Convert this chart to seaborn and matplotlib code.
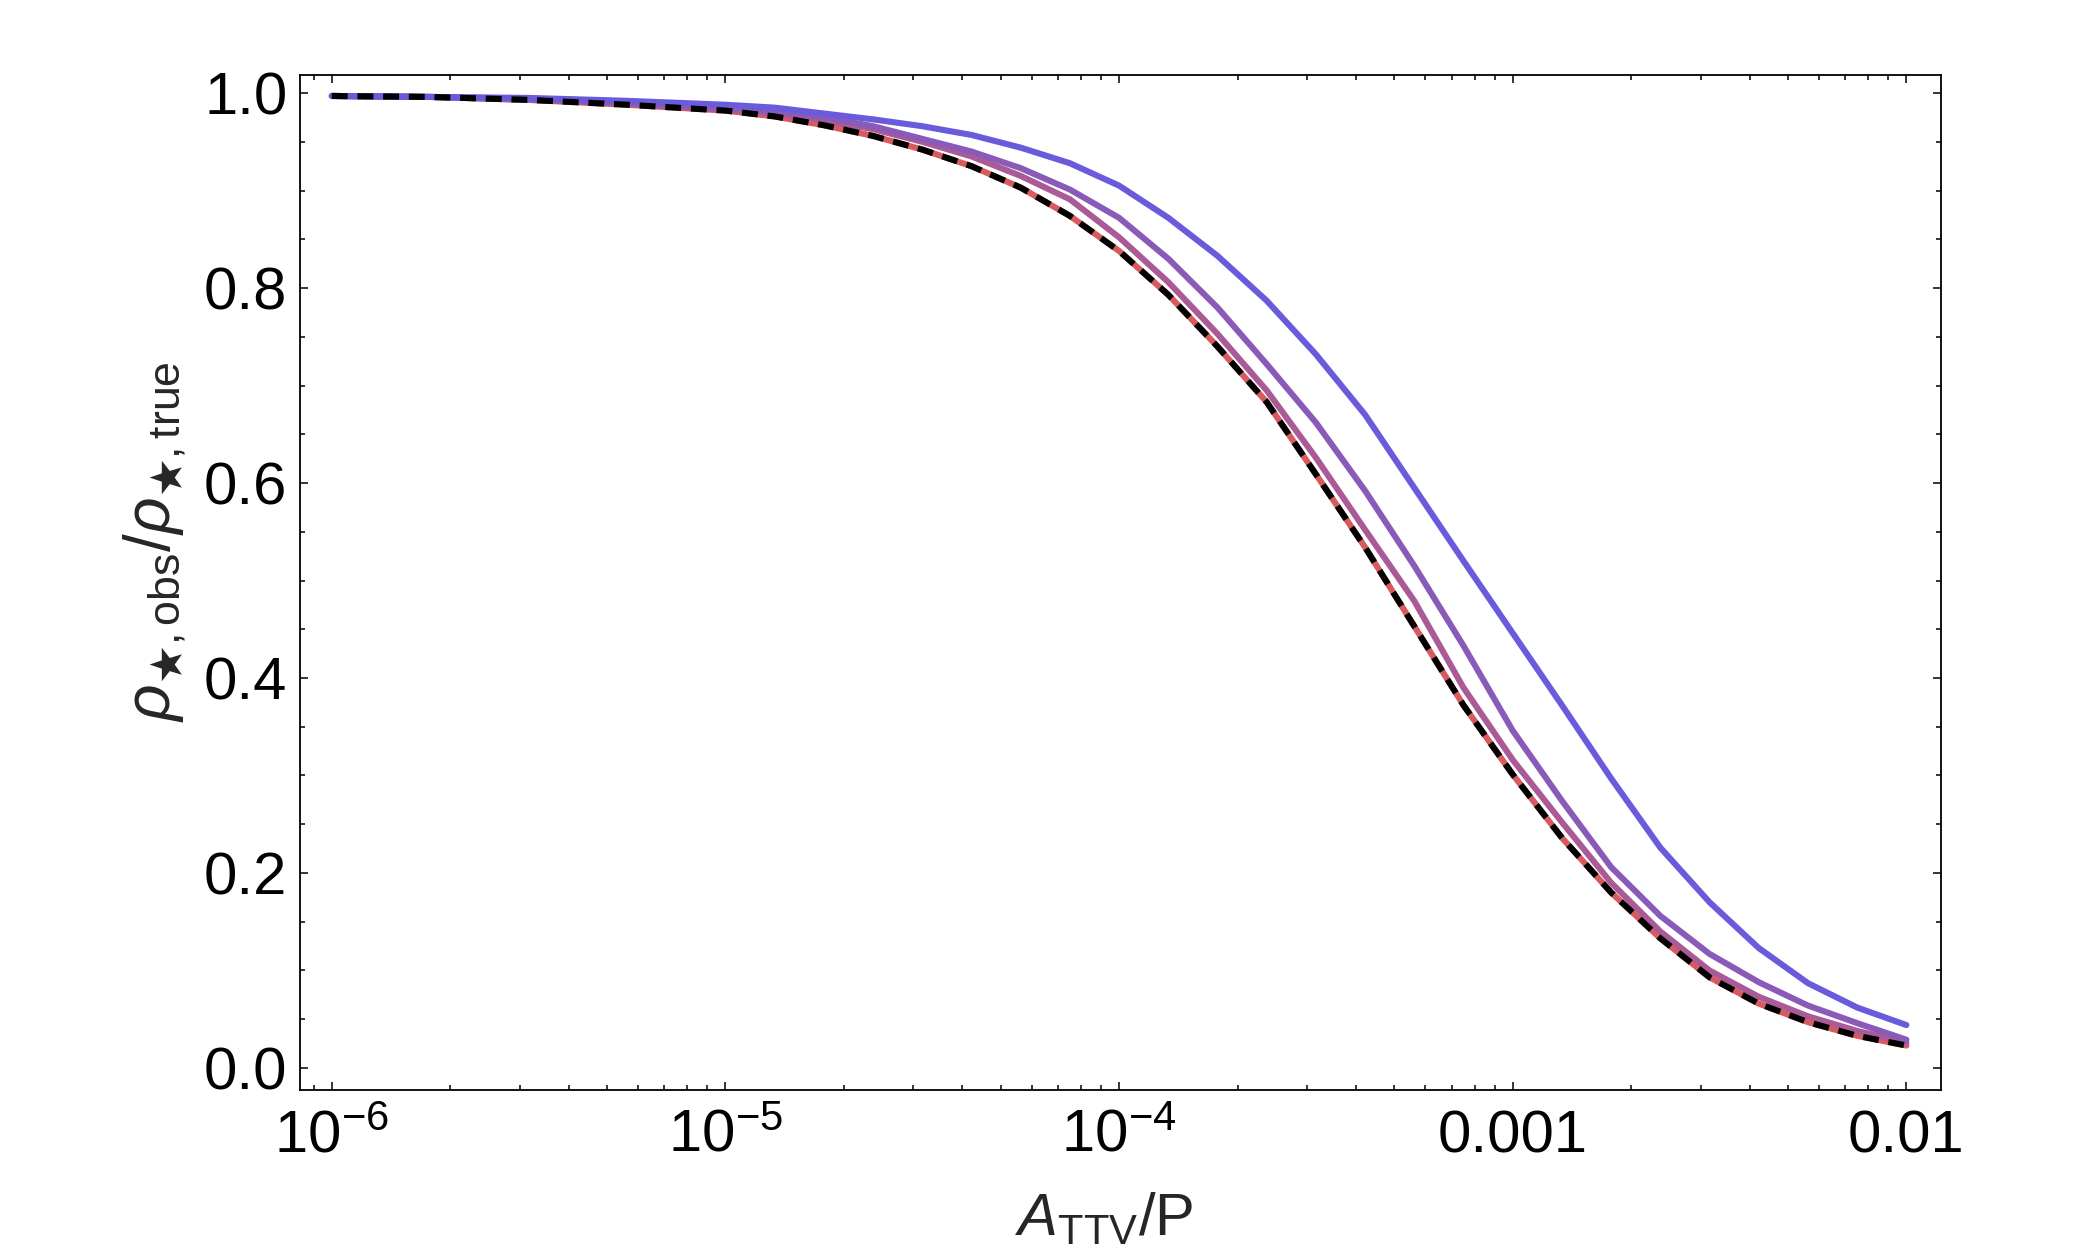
import numpy as np
import pandas as pd
import matplotlib
matplotlib.use("Agg")
import matplotlib.pyplot as plt
import matplotlib.ticker as mticker
import seaborn as sns

# Valores (A_TTV/P em escala log)
x_vals = [1.0e-6, 1.778e-6, 3.162e-6, 5.623e-6, 1.0e-5, 1.334e-5, 1.778e-5,
          2.371e-5, 3.162e-5, 4.217e-5, 5.623e-5, 7.499e-5, 1.0e-4, 1.334e-4,
          1.778e-4, 2.371e-4, 3.162e-4, 4.217e-4, 5.623e-4, 7.499e-4, 1.0e-3,
          1.334e-3, 1.778e-3, 2.371e-3, 3.162e-3, 4.217e-3, 5.623e-3,
          7.499e-3, 1.0e-2]

blue_vals = [0.997, 0.996, 0.995, 0.992, 0.988, 0.985, 0.979, 0.973, 0.966,
             0.957, 0.944, 0.928, 0.905, 0.872, 0.833, 0.787, 0.732, 0.670,
             0.595, 0.520, 0.446, 0.372, 0.297, 0.226, 0.170, 0.123, 0.087,
             0.062, 0.044]
purple_vals = [0.997, 0.996, 0.994, 0.990, 0.985, 0.981, 0.975, 0.966, 0.953,
               0.940, 0.923, 0.901, 0.872, 0.830, 0.780, 0.722, 0.662, 0.592,
               0.515, 0.433, 0.346, 0.274, 0.206, 0.156, 0.117, 0.088, 0.064,
               0.046, 0.029]
magenta_vals = [0.997, 0.996, 0.993, 0.989, 0.983, 0.979, 0.972, 0.963, 0.950,
                0.935, 0.915, 0.891, 0.852, 0.806, 0.753, 0.695, 0.626, 0.552,
                0.479, 0.390, 0.316, 0.252, 0.190, 0.140, 0.100, 0.073, 0.053,
                0.038, 0.026]
red_vals = [0.997, 0.996, 0.993, 0.988, 0.982, 0.976, 0.967, 0.956, 0.942,
            0.925, 0.903, 0.874, 0.838, 0.793, 0.740, 0.683, 0.609, 0.534,
            0.453, 0.372, 0.301, 0.236, 0.180, 0.133, 0.093, 0.066, 0.047,
            0.033, 0.023]
limit_vals = [0.997, 0.996, 0.993, 0.988, 0.982, 0.976, 0.967, 0.956, 0.942,
              0.925, 0.903, 0.874, 0.838, 0.793, 0.740, 0.683, 0.609, 0.534,
              0.453, 0.372, 0.301, 0.236, 0.180, 0.133, 0.093, 0.066, 0.047,
              0.033, 0.023]

curve_names = ["red", "magenta", "purple", "blue"]
curve_colors = {"red": "#d65a5e", "magenta": "#aa5a96",
                "purple": "#8a5ab8", "blue": "#6a5adc"}

x_ticks = [1e-6, 1e-5, 1e-4, 1e-3, 1e-2]
x_tick_labels = [r"$10^{-6}$", r"$10^{-5}$", r"$10^{-4}$", "0.001", "0.01"]
y_ticks = [0.0, 0.2, 0.4, 0.6, 0.8, 1.0]

sns.set_style("ticks")
plt.rcParams["font.family"] = ["Liberation Sans", "DejaVu Sans"]
plt.rcParams["mathtext.fontset"] = "custom"
plt.rcParams["mathtext.rm"] = "Liberation Sans"
plt.rcParams["mathtext.it"] = "Liberation Sans:italic"
plt.rcParams["mathtext.bf"] = "Liberation Sans:bold"
plt.rcParams["mathtext.fallback"] = "stixsans"

series = {"red": red_vals, "magenta": magenta_vals,
          "purple": purple_vals, "blue": blue_vals}
frames = []
for name in curve_names:
    frames.append(pd.DataFrame({"x": x_vals, "y": series[name], "curve": name}))
df = pd.concat(frames, ignore_index=True)

fig = plt.figure(figsize=(20.83, 12.5), dpi=100)
ax = fig.add_axes([0.144, 0.128, 0.788, 0.812])

# curvas coloridas, da vermelha (em baixo) até a azul
for name in curve_names:
    sub = df[df["curve"] == name]
    sns.lineplot(data=sub, x="x", y="y", color=curve_colors[name],
                 linewidth=4.4, ax=ax, legend=False)

# curva tracejada preta por cima
ax.plot(x_vals, limit_vals, color="black", linewidth=4.4,
        linestyle=(0, (2.6, 1.6)))

ax.set_xscale("log")
ax.set_xlim(8.3e-7, 1.227e-2)
ax.set_ylim(-0.0226, 1.0185)

ax.set_xticks(x_ticks)
ax.xaxis.set_major_formatter(mticker.FixedFormatter(x_tick_labels))
ax.xaxis.set_minor_locator(mticker.LogLocator(base=10, subs=np.arange(2, 10)))
ax.xaxis.set_minor_formatter(mticker.NullFormatter())
ax.set_yticks(y_ticks)
ax.yaxis.set_major_formatter(mticker.FormatStrFormatter("%.1f"))
ax.yaxis.set_minor_locator(mticker.MultipleLocator(0.05))

ax.tick_params(which="both", direction="in", top=True, right=True,
               width=1.1, colors="black", labelsize=43)
ax.tick_params(which="major", length=6)
ax.tick_params(which="minor", length=3.6)
ax.tick_params(axis="x", which="major", pad=14)
ax.tick_params(axis="y", which="major", pad=9)

for sp in ax.spines.values():
    sp.set_linewidth(1.3)
    sp.set_color("black")

ax.set_xlabel(r"$A_{\mathrm{TTV}}/\mathrm{P}$", fontsize=43)
ax.set_ylabel(r"$\rho_{\bigstar,\mathrm{obs}}/\rho_{\bigstar,\mathrm{true}}$",
              fontsize=46)
ax.xaxis.set_label_coords(0.49, -0.1)
ax.yaxis.set_label_coords(-0.069, 0.54)

fig.savefig("out.png", dpi=100)
